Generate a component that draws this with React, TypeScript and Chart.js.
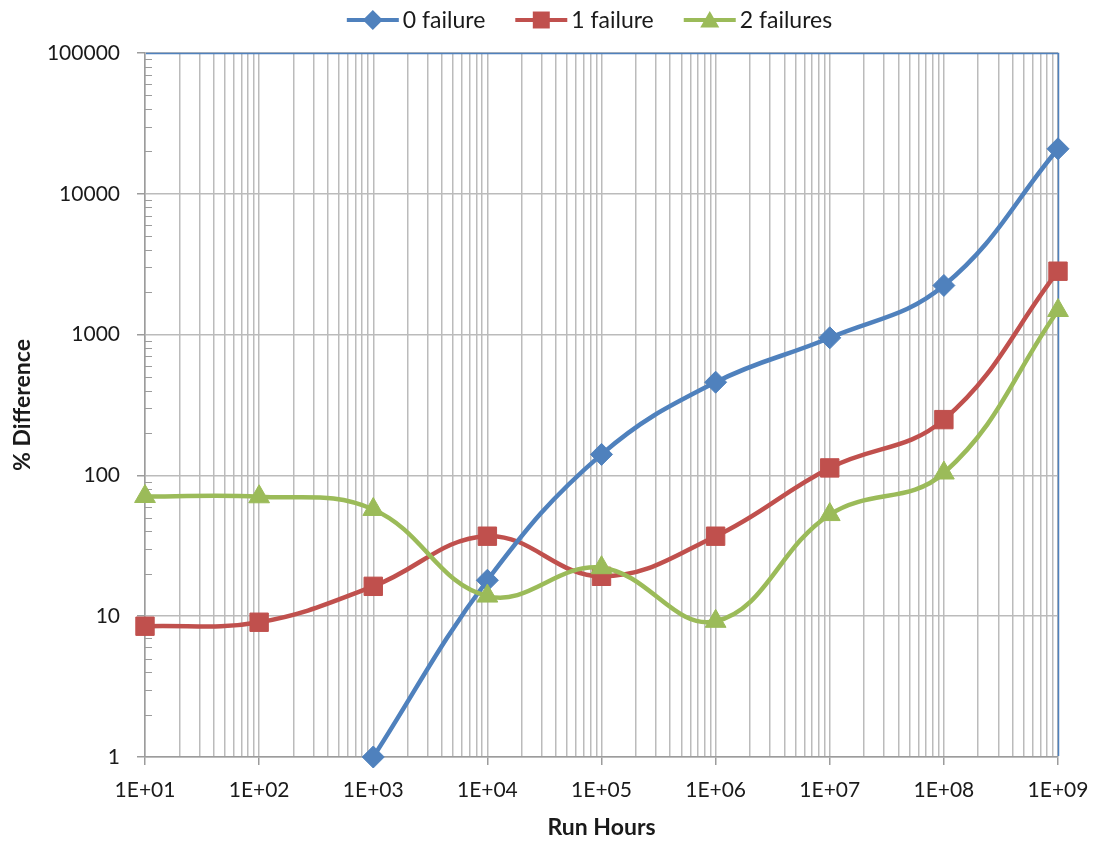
import React, { useEffect, useRef } from "react";
import { Chart, registerables } from "chart.js";

Chart.register(...registerables);

// ---- data ----
const runHours = [1e1, 1e2, 1e3, 1e4, 1e5, 1e6, 1e7, 1e8, 1e9];
const xTickLabels = ["1E+01", "1E+02", "1E+03", "1E+04", "1E+05", "1E+06", "1E+07", "1E+08", "1E+09"];
const yTickValues = [1, 10, 100, 1000, 10000, 100000];
const yTickLabels = ["1", "10", "100", "1000", "10000", "100000"];

const seriesNames = ["0 failure", "1 failure", "2 failures"];
const zeroFailure: (number | null)[] = [null, null, 1, 18.0, 141, 459, 949, 2233, 20870];
const oneFailure: (number | null)[] = [8.49, 9.06, 16.3, 37.0, 19.2, 37.0, 113, 249, 2820];
const twoFailures: (number | null)[] = [70.8, 70.5, 57.3, 13.9, 22.1, 9.2, 52.7, 104, 1483];

const seriesColors = ["#4F81BD", "#C0504D", "#9BBB59"];
const seriesMarkers = ["rectRot", "rect", "triangle"];
const seriesRadius = [11, 13, 12];

const FONT = "Lato, 'Open Sans', sans-serif";
const GRID = "#BBBBBB";
const AXIS = "#9C9C9C";

function drawMarker(ctx: CanvasRenderingContext2D, kind: string, x: number, y: number, r: number) {
  ctx.beginPath();
  if (kind === "rectRot") {
    ctx.moveTo(x, y - r);
    ctx.lineTo(x + r, y);
    ctx.lineTo(x, y + r);
    ctx.lineTo(x - r, y);
  } else if (kind === "rect") {
    const s = r * Math.SQRT1_2;
    ctx.rect(x - s, y - s, 2 * s, 2 * s);
  } else {
    ctx.moveTo(x, y - r);
    ctx.lineTo(x + r * Math.sin(Math.PI / 3), y + r / 2);
    ctx.lineTo(x - r * Math.sin(Math.PI / 3), y + r / 2);
  }
  ctx.closePath();
  ctx.fill();
}

const decorPlugin = {
  id: "decor",
  beforeDatasetsDraw(chart: any) {
    const { ctx, chartArea, scales } = chart;
    const y = scales.y;
    ctx.save();
    // minor ticks on the inside of the value axis
    ctx.strokeStyle = AXIS;
    ctx.lineWidth = 1;
    for (let i = 0; i < yTickValues.length - 1; i++) {
      for (let m = 2; m <= 9; m++) {
        const py = Math.round(y.getPixelForValue(yTickValues[i] * m)) + 0.5;
        ctx.beginPath();
        ctx.moveTo(chartArea.left, py);
        ctx.lineTo(chartArea.left + 7, py);
        ctx.stroke();
      }
    }
    // plot border top / right
    ctx.strokeStyle = "#4F81BD";
    ctx.lineWidth = 1.5;
    ctx.beginPath();
    ctx.moveTo(chartArea.left + 1, Math.round(chartArea.top) + 0.5);
    ctx.lineTo(Math.round(chartArea.right) + 0.5, Math.round(chartArea.top) + 0.5);
    ctx.lineTo(Math.round(chartArea.right) + 0.5, chartArea.bottom - 1);
    ctx.stroke();
    ctx.restore();
  },
  afterDraw(chart: any) {
    const { ctx, chartArea } = chart;
    ctx.save();
    ctx.font = `23px ${FONT}`;
    ctx.textBaseline = "middle";
    const lineLen = 52;
    const gapText = 4;
    const gapItem = 30;
    const widths = seriesNames.map((n) => ctx.measureText(n).width);
    let total = 0;
    widths.forEach((w, i) => {
      total += lineLen + gapText + w + (i < widths.length - 1 ? gapItem : 0);
    });
    const center = (chartArea.left + chartArea.right) / 2 - 12;
    let x = center - total / 2;
    const cy = 20;
    seriesNames.forEach((name, i) => {
      ctx.strokeStyle = seriesColors[i];
      ctx.fillStyle = seriesColors[i];
      ctx.lineWidth = 4;
      ctx.beginPath();
      ctx.moveTo(x, cy);
      ctx.lineTo(x + lineLen, cy);
      ctx.stroke();
      drawMarker(ctx, seriesMarkers[i], x + lineLen / 2, cy + (seriesMarkers[i] === "triangle" ? 2 : 0), seriesRadius[i] - 1);
      ctx.fillStyle = "#1a1a1a";
      ctx.textAlign = "left";
      ctx.fillText(name, x + lineLen + gapText, cy + 1);
      x += lineLen + gapText + widths[i] + gapItem;
    });
    ctx.restore();
  },
};

export default function App() {
  const ref = useRef<HTMLCanvasElement | null>(null);

  useEffect(() => {
    document.body.style.margin = "0";
    if (!ref.current) return;
    const seriesValues = [zeroFailure, oneFailure, twoFailures];
    const orders = [1, 2, 0];
    const chart = new Chart(ref.current, {
      type: "line",
      data: {
        datasets: seriesValues.map((vals, i) => ({
          label: seriesNames[i],
          data: runHours.map((x, j) => ({ x, y: vals[j] })),
          borderColor: seriesColors[i],
          backgroundColor: seriesColors[i],
          borderWidth: 4.5,
          pointStyle: seriesMarkers[i] as any,
          pointRadius: seriesRadius[i],
          pointBorderWidth: 1,
          pointBorderColor: seriesColors[i],
          pointBackgroundColor: seriesColors[i],
          tension: 0.4,
          fill: false,
          clip: false as any,
          order: orders[i],
        })),
      },
      options: {
        responsive: false,
        animation: false,
        layout: { padding: { top: 53, right: 37, left: 0, bottom: 0 } },
        plugins: {
          legend: { display: false },
          tooltip: { enabled: false },
        },
        scales: {
          x: {
            type: "logarithmic",
            min: runHours[0],
            max: runHours[runHours.length - 1],
            afterBuildTicks: (scale: any) => {
              const ticks: any[] = [];
              runHours.forEach((d, i) => {
                ticks.push({ value: d });
                if (i < runHours.length - 1) {
                  for (let m = 2; m <= 9; m++) ticks.push({ value: d * m });
                }
              });
              scale.ticks = ticks;
            },
            afterFit: (scale: any) => {
              scale.height = 84;
              scale.paddingLeft = 0;
              scale.paddingRight = 0;
            },
            ticks: {
              autoSkip: false,
              maxRotation: 0,
              padding: 13,
              color: "#1a1a1a",
              font: { family: FONT, size: 21 },
              callback: (value: any) => {
                const idx = runHours.indexOf(Number(value));
                return idx >= 0 ? xTickLabels[idx] : "";
              },
            },
            grid: {
              color: GRID,
              lineWidth: 1.5,
              tickLength: 8,
              tickColor: (c: any) => (runHours.indexOf(c.tick?.value) >= 0 ? AXIS : "rgba(0,0,0,0)"),
            },
            border: { color: AXIS, width: 1.5 },
            title: {
              display: true,
              text: "Run Hours",
              color: "#1a1a1a",
              font: { family: FONT, size: 23, weight: "bold" },
              padding: { top: 0, bottom: 0 },
            },
          },
          y: {
            type: "logarithmic",
            min: yTickValues[0],
            max: yTickValues[yTickValues.length - 1],
            afterBuildTicks: (scale: any) => {
              scale.ticks = yTickValues.map((v) => ({ value: v }));
            },
            afterFit: (scale: any) => {
              scale.width = 145;
            },
            ticks: {
              autoSkip: false,
              padding: 17,
              color: "#1a1a1a",
              font: { family: FONT, size: 21 },
              callback: (value: any) => {
                const idx = yTickValues.indexOf(Number(value));
                return idx >= 0 ? yTickLabels[idx] : "";
              },
            },
            grid: {
              color: GRID,
              lineWidth: 1.5,
              tickLength: 8,
              tickColor: AXIS,
            },
            border: { color: AXIS, width: 1.5 },
            title: {
              display: true,
              text: "% Difference",
              color: "#1a1a1a",
              font: { family: FONT, size: 23, weight: "bold" },
              padding: { top: 9, bottom: 0 },
            },
          },
        },
      },
      plugins: [decorPlugin],
    });
    return () => chart.destroy();
  }, []);

  return (
    <div style={{ position: "absolute", left: 0, top: 0, width: 1095, height: 841 }}>
      <canvas ref={ref} width={1095} height={841} style={{ width: 1095, height: 841, display: "block" }} />
    </div>
  );
}
